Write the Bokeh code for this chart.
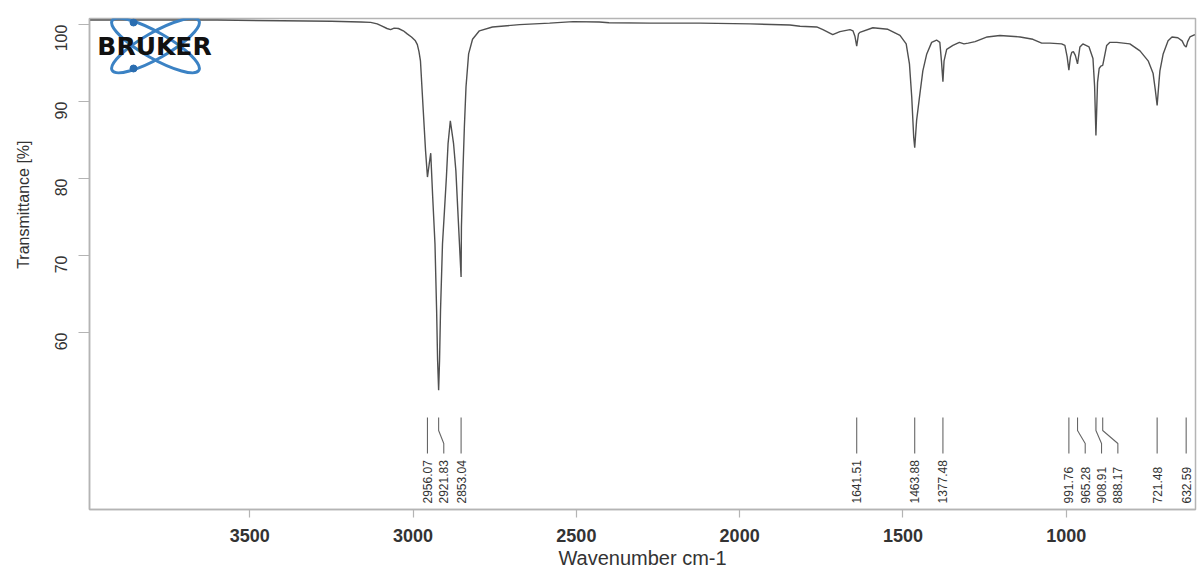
import math
from bokeh.plotting import figure
from bokeh.models import Range1d, FixedTicker, Label, Title
from bokeh.core.properties import value
from bokeh.embed import file_html
from bokeh.resources import INLINE

# ---------------- data ----------------
wavenumber = [
    3991, 3800, 3600, 3400, 3250, 3160, 3130, 3110, 3095, 3080,
    3069, 3058, 3045, 3030, 3018, 3005, 2993, 2987, 2982, 2977.5,
    2969, 2962, 2956.07, 2951, 2946, 2940, 2933, 2928, 2925, 2921.83,
    2919, 2916, 2910, 2904, 2898, 2893, 2886, 2876, 2869, 2863,
    2858, 2853.04, 2852, 2848, 2843, 2838, 2830, 2818, 2797, 2757,
    2674, 2582, 2510, 2430, 2400, 2274, 2121, 1968, 1846, 1815,
    1764, 1745, 1715, 1693, 1662, 1653, 1647, 1641.51, 1636, 1632,
    1592, 1546, 1509, 1490, 1480, 1473, 1467, 1463.88, 1458, 1448,
    1439, 1427, 1412, 1397, 1387, 1382, 1377.48, 1374, 1366, 1347,
    1327, 1313, 1300, 1279, 1242, 1203, 1141, 1102, 1075, 1050,
    1014, 1004, 997, 991.76, 987, 983, 978, 972, 965.28, 958,
    949, 930, 918, 913, 908.91, 904, 899, 894, 888.17, 882,
    876, 866, 845, 805, 774, 749, 734, 727, 721.48, 716,
    713, 703, 688, 676, 658, 645, 638, 632.59, 628, 621, 606,
]
transmittance = [
    100.6, 100.6, 100.6, 100.5, 100.45, 100.35, 100.3, 100.1, 99.8, 99.5,
    99.35, 99.55, 99.5, 99.2, 98.8, 98.4, 97.9, 97.4, 96.5, 95.3,
    88.9, 83.7, 80.2, 81.8, 83.3, 77.6, 71.5, 62.9, 56.4, 52.5,
    56.4, 62.9, 71.5, 75.8, 80.2, 84.5, 87.5, 84.5, 81.0, 75.8,
    71.5, 67.2, 73.7, 80.2, 86.7, 91.9, 96.2, 98.1, 99.2, 99.7,
    100.0, 100.2, 100.4, 100.35, 100.25, 100.2, 100.2, 100.1, 99.95, 99.8,
    99.7, 99.35, 98.7, 99.1, 99.35, 99.2, 98.5, 97.2, 98.8, 99.0,
    99.6, 99.4, 98.6, 97.5, 94.9, 90.6, 85.4, 84.0, 87.6, 91.0,
    94.0, 96.2, 97.7, 98.0, 97.7, 95.3, 92.6, 95.3, 96.8, 97.3,
    97.7, 97.5, 97.6, 97.8, 98.4, 98.6, 98.4, 98.1, 97.6, 97.6,
    97.5, 97.3, 95.8, 94.1, 95.8, 96.4, 96.5, 96.0, 94.9, 97.1,
    97.5, 97.1, 95.6, 92.0, 85.6, 92.5, 94.3, 94.6, 94.7, 96.0,
    97.3, 97.7, 97.7, 97.5, 96.6, 95.3, 93.7, 91.5, 89.5, 92.5,
    94.0, 96.2, 97.9, 98.4, 98.3, 97.9, 97.3, 97.1, 97.8, 98.4, 98.7,
]
peak_wavenumbers = [2956.07, 2921.83, 2853.04, 1641.51, 1463.88, 1377.48,
                    991.76, 965.28, 908.91, 888.17, 721.48, 632.59]
peak_labels = ["2956.07", "2921.83", "2853.04", "1641.51", "1463.88", "1377.48",
               "991.76", "965.28", "908.91", "888.17", "721.48", "632.59"]
x_ticks = [1000, 1500, 2000, 2500, 3000, 3500]
y_ticks = [60, 70, 80, 90, 100]
x_title = "Wavenumber cm-1"
y_title = "Transmittance [%]"
logo_text = "BRUKER"

# ---------------- layout / style ----------------
X_START, X_END = 3991, 604
Y_START, Y_END = 37.0, 100.8
FIG_W, FIG_H = 1200, 573
FRAME_LEFT, FRAME_RIGHT, FRAME_TOP, FRAME_BOTTOM = 89, 1195, 18, 509
SX = (FRAME_RIGHT - FRAME_LEFT) / (X_START - X_END)
SY = (FRAME_BOTTOM - FRAME_TOP) / (Y_END - Y_START)


def to_data(fx, fy):
    """figure-pixel position -> data coordinates (for annotations)"""
    return X_START - (fx - FRAME_LEFT) / SX, Y_END - (fy - FRAME_TOP) / SY


GRAY_AXIS = "#b4b4b4"
TEXT = "#333333"
CURVE = "#505050"
FONT = value("Liberation Sans")
LABEL_GAP = 50.0          # min spacing of peak labels (cm-1)
# peak-label leader geometry (data y)
_, LEAD_TOP = to_data(0, 417)
_, LEAD_KINK1 = to_data(0, 430)
_, LEAD_KINK2 = to_data(0, 443)
_, LEAD_BOT = to_data(0, 453)
_, LABEL_BASE = to_data(0, 503)

p = figure(width=FIG_W, height=FIG_H,
           x_range=Range1d(X_START, X_END), y_range=Range1d(Y_START, Y_END),
           output_backend="svg", toolbar_location=None,
           min_border_left=FRAME_LEFT, min_border_right=FIG_W - FRAME_RIGHT,
           min_border_top=FRAME_TOP, min_border_bottom=FIG_H - FRAME_BOTTOM)
p.grid.visible = False
p.outline_line_color = GRAY_AXIS
p.outline_line_width = 1.5
p.background_fill_color = "white"
p.border_fill_color = "white"

for ax in (p.xaxis[0], p.yaxis[0]):
    ax.axis_line_color = GRAY_AXIS
    ax.axis_line_width = 1.5
    ax.major_tick_line_color = GRAY_AXIS
    ax.major_tick_line_width = 1.2
    ax.major_tick_in = 0
    ax.minor_tick_line_color = None
    ax.major_label_text_color = TEXT
    ax.major_label_text_font = "Liberation Sans"

p.xaxis.ticker = FixedTicker(ticks=x_ticks)
p.xaxis.major_tick_out = 8
p.xaxis.major_label_standoff = 11
p.xaxis.major_label_text_font_size = "18px"
p.xaxis.major_label_text_font_style = "bold"
p.xaxis.axis_label = x_title
p.xaxis.axis_label_standoff = 2
p.xaxis.axis_label_text_font = "Liberation Sans"
p.xaxis.axis_label_text_font_size = "20px"
p.xaxis.axis_label_text_font_style = "normal"
p.xaxis.axis_label_text_color = TEXT

p.yaxis.ticker = FixedTicker(ticks=y_ticks)
p.yaxis.major_tick_out = 11
p.yaxis.major_label_standoff = 17
p.yaxis.major_label_orientation = math.pi / 2
p.yaxis.major_label_text_font_size = "16px"

p.add_layout(Title(text=y_title, align="right", vertical_align="top",
                   offset=122, standoff=25,
                   text_font="Liberation Sans", text_font_size="16px",
                   text_font_style="normal", text_color=TEXT), "left")

# ---------------- spectrum ----------------
p.line(wavenumber, transmittance, line_color=CURVE, line_width=1.4)

# ---------------- peak picking labels ----------------
label_x = []
prev = None
for wn in peak_wavenumbers:
    lx = wn if prev is None else min(wn, prev - LABEL_GAP)
    label_x.append(lx)
    prev = lx

xs = [[wn, wn, lx, lx] for wn, lx in zip(peak_wavenumbers, label_x)]
ys = [[LEAD_TOP, LEAD_KINK1, LEAD_KINK2, LEAD_BOT] for _ in peak_wavenumbers]
p.multi_line(xs, ys, line_color="#666666", line_width=1.1)
p.text(x=label_x, y=[LABEL_BASE] * len(label_x), text=peak_labels,
       angle=math.pi / 2, text_align="left", text_baseline="middle",
       text_font=FONT, text_font_size="12px", text_color=TEXT)

# ---------------- BRUKER logo ----------------
cx, cy = to_data(155, 45)
p.ellipse(x=[cx, cx], y=[cy, cy], width=100, height=26, angle=[0.52, -0.52],
          width_units="screen", height_units="screen",
          fill_alpha=0, line_color="#3b82c4", line_width=3)
d1 = to_data(133, 22)
d2 = to_data(133, 68)
p.scatter(x=[d1[0], d2[0]], y=[d1[1], d2[1]], size=7, color="#2a6db0")
lx_, ly_ = to_data(154, 46)
p.add_layout(Label(x=lx_, y=ly_, text=logo_text, text_align="center",
                   text_baseline="middle", text_font="DejaVu Sans",
                   text_font_style="bold", text_font_size="25px",
                   text_color="#111111"))

open("out.html", "w").write(file_html(p, INLINE))
